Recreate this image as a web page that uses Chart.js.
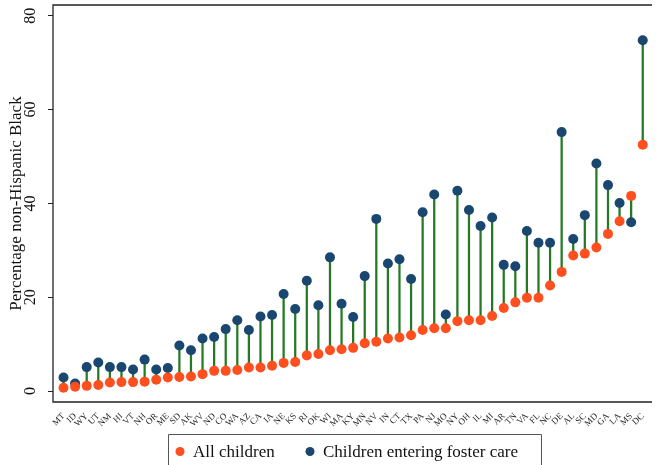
<!DOCTYPE html>
<html>
<head>
<meta charset="utf-8">
<script src="https://cdn.jsdelivr.net/npm/chart.js@4"></script>
<style>
  html, body { margin: 0; padding: 0; background: #fff; }
  #wrap { width: 657px; height: 465px; position: relative; }
</style>
</head>
<body>
<div id="wrap"><canvas id="chart" width="657" height="465"></canvas></div>
<script>
// States, ordered by share in all children
const states = ['MT','ID','WY','UT','NM','HI','VT','NH','OR','ME','SD','AK','WV','ND','CO','WA','AZ','CA','IA','NE','KS','RI','OK','WI','MA','KY','MN','NV','IN','CT','TX','PA','NJ','MO','NY','OH','IL','MI','AR','TN','VA','FL','NC','DE','AL','SC','MD','GA','LA','MS','DC'];

const allChildren = [0.7,0.9,1.1,1.3,1.8,1.9,1.9,2.0,2.4,2.9,3.0,3.1,3.6,4.3,4.3,4.5,5.0,5.0,5.4,6.0,6.2,7.6,7.9,8.7,8.9,9.2,10.2,10.5,11.2,11.4,11.9,13.0,13.4,13.4,14.9,15.1,15.1,16.0,17.7,18.9,19.9,19.9,22.5,25.4,28.9,29.3,30.6,33.5,36.2,41.6,52.5];

const fosterCare = [2.9,1.6,5.1,6.1,5.1,5.1,4.6,6.7,4.6,4.9,9.7,8.7,11.2,11.5,13.2,15.1,13.0,15.9,16.2,20.7,17.5,23.5,18.3,28.5,18.6,15.8,24.5,36.7,27.2,28.1,23.9,38.1,41.9,16.3,42.7,38.6,35.2,37.0,26.9,26.6,34.1,31.6,31.6,55.2,32.4,37.5,48.5,43.9,40.1,36.0,74.8];

const yTicks = [0, 20, 40, 60, 80];

const ORANGE = '#ff4f1f';
const NAVY = '#1a476f';
const GREEN = '#237a23';
const SERIF = '"Liberation Serif", "DejaVu Serif", serif';

// frame round the plot, rotated y tick labels and the boxed legend
const decorations = {
    id: 'decorations',
    afterDraw(chart) {
        const ctx = chart.ctx;
        const a = chart.chartArea;
        const y = chart.scales.y;

        ctx.save();
        ctx.strokeStyle = '#222';
        ctx.lineWidth = 1.3;
        ctx.beginPath();
        ctx.moveTo(a.right, a.bottom);
        ctx.lineTo(a.left, a.bottom);
        ctx.lineTo(a.left, a.top);
        ctx.lineTo(a.right, a.top);
        ctx.stroke();

        // y tick labels, turned like the original
        ctx.fillStyle = '#111';
        ctx.font = '16px ' + SERIF;
        ctx.textAlign = 'center';
        ctx.textBaseline = 'middle';
        yTicks.forEach(v => {
            ctx.save();
            ctx.translate(31, y.getPixelForValue(v));
            ctx.rotate(-Math.PI / 2);
            ctx.fillText(String(v), 0, 0);
            ctx.restore();
        });

        // legend
        ctx.strokeStyle = '#555';
        ctx.lineWidth = 1;
        ctx.beginPath();
        ctx.moveTo(168.5, 470);
        ctx.lineTo(168.5, 434.5);
        ctx.lineTo(541.5, 434.5);
        ctx.lineTo(541.5, 470);
        ctx.stroke();

        const items = [
            { ds: chart.data.datasets[0], x: 180 },
            { ds: chart.data.datasets[1], x: 310 }
        ];
        ctx.font = '17px ' + SERIF;
        ctx.textAlign = 'left';
        ctx.textBaseline = 'alphabetic';
        items.forEach(it => {
            ctx.fillStyle = it.ds.backgroundColor;
            ctx.beginPath();
            ctx.arc(it.x, 451.5, 4.5, 0, Math.PI * 2);
            ctx.fill();
            ctx.fillStyle = '#111';
            ctx.fillText(it.ds.label, it.x + 13, 457);
        });
        ctx.restore();
    }
};

const ctx = document.getElementById('chart').getContext('2d');
new Chart(ctx, {
    type: 'scatter',
    data: {
        datasets: [
            {
                label: 'All children',
                data: allChildren.map((v, i) => ({ x: i, y: v })),
                backgroundColor: ORANGE,
                borderWidth: 0,
                pointRadius: 5,
                pointHoverRadius: 5
            },
            {
                label: 'Children entering foster care',
                data: fosterCare.map((v, i) => ({ x: i, y: v })),
                backgroundColor: NAVY,
                borderWidth: 0,
                pointRadius: 5,
                pointHoverRadius: 5
            },
            {
                type: 'bar',
                label: 'gap',
                data: states.map((s, i) => ({ x: i, y: [allChildren[i], fosterCare[i]] })),
                backgroundColor: GREEN,
                barThickness: 1.6,
                grouped: false
            }
        ]
    },
    options: {
        responsive: false,
        animation: false,
        layout: { padding: { top: 5, right: 0, left: 0, bottom: 0 } },
        plugins: {
            legend: { display: false },
            tooltip: { enabled: false }
        },
        scales: {
            x: {
                type: 'linear',
                min: -0.91,
                max: 50.8,
                offset: false,
                afterBuildTicks: s => { s.ticks = states.map((_, i) => ({ value: i })); },
                afterFit: s => { s.height = 63; },
                grid: { display: false },
                border: { display: false },
                ticks: {
                    autoSkip: false,
                    minRotation: 45,
                    maxRotation: 45,
                    padding: 1,
                    color: '#222',
                    font: { family: SERIF, size: 9 },
                    callback: v => states[v] || ''
                }
            },
            y: {
                type: 'linear',
                min: -2.34,
                max: 82.3,
                afterBuildTicks: s => { s.ticks = yTicks.map(v => ({ value: v })); },
                afterFit: s => { s.width = 53; },
                grid: {
                    drawOnChartArea: false,
                    drawTicks: true,
                    tickLength: 5,
                    color: '#222',
                    lineWidth: 1
                },
                border: { display: false },
                ticks: {
                    color: 'rgba(0,0,0,0)',
                    font: { family: SERIF, size: 1 }
                },
                title: {
                    display: true,
                    text: 'Percentage non-Hispanic Black',
                    color: '#111',
                    font: { family: SERIF, size: 17 },
                    padding: { top: 6, bottom: 0 }
                }
            }
        }
    },
    plugins: [decorations]
});
</script>
</body>
</html>
